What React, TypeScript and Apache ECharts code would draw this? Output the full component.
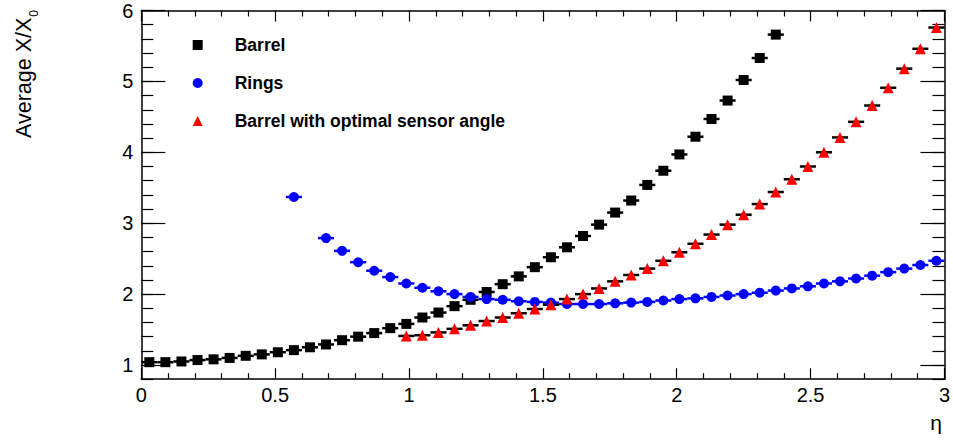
import React, { useEffect, useRef } from "react";
import * as echarts from "echarts";

// Bin centres in eta (bins of width 0.06 from 0 to 3)
const etaCenters = [
  0.03, 0.09, 0.15, 0.21, 0.27, 0.33, 0.39, 0.45, 0.51, 0.57,
  0.63, 0.69, 0.75, 0.81, 0.87, 0.93, 0.99, 1.05, 1.11, 1.17,
  1.23, 1.29, 1.35, 1.41, 1.47, 1.53, 1.59, 1.65, 1.71, 1.77,
  1.83, 1.89, 1.95, 2.01, 2.07, 2.13, 2.19, 2.25, 2.31, 2.37,
  2.43, 2.49, 2.55, 2.61, 2.67, 2.73, 2.79, 2.85, 2.91, 2.97,
];
const binHalfWidth = 0.03;

const barrel = [
  1.04, 1.04, 1.05, 1.07, 1.08, 1.1, 1.13, 1.15, 1.18, 1.21,
  1.25, 1.29, 1.35, 1.4, 1.45, 1.52, 1.58, 1.67, 1.74, 1.83,
  1.92, 2.03, 2.14, 2.25, 2.38, 2.52, 2.66, 2.82, 2.98, 3.15,
  3.32, 3.54, 3.74, 3.97, 4.22, 4.47, 4.73, 5.02, 5.33, 5.66,
  null, null, null, null, null, null, null, null, null, null,
];

const rings = [
  null, null, null, null, null, null, null, null, null, 3.37,
  null, 2.79, 2.61, 2.45, 2.33, 2.24, 2.15, 2.09, 2.04, 2.0,
  1.96, 1.93, 1.92, 1.9, 1.89, 1.88, 1.86, 1.86, 1.86, 1.87,
  1.88, 1.89, 1.91, 1.93, 1.94, 1.96, 1.98, 2.0, 2.02, 2.05,
  2.08, 2.11, 2.15, 2.18, 2.22, 2.26, 2.31, 2.36, 2.41, 2.47,
];

const optimal = [
  null, null, null, null, null, null, null, null, null, null,
  null, null, null, null, null, null, 1.41, 1.42, 1.46, 1.51,
  1.56, 1.62, 1.67, 1.73, 1.79, 1.85, 1.93, 2.0, 2.08, 2.18,
  2.27, 2.36, 2.47, 2.59, 2.71, 2.84, 2.98, 3.12, 3.27, 3.44,
  3.62, 3.8, 4.0, 4.21, 4.43, 4.66, 4.91, 5.18, 5.46, 5.76,
];

const seriesNames = ["Barrel", "Rings", "Barrel with optimal sensor angle"];
const yTickLabels = [1, 2, 3, 4, 5, 6];
const xTickLabels = [0, 0.5, 1, 1.5, 2, 2.5, 3];

const FONT = "'Liberation Sans', Arial, Helvetica, sans-serif";

function pairs(values: (number | null)[]) {
  const out: number[][] = [];
  values.forEach((v, i) => {
    if (v !== null && v !== undefined) out.push([etaCenters[i], v]);
  });
  return out;
}

function errorBars(name: string, data: number[][], color: string) {
  return {
    type: "custom",
    name,
    xAxisIndex: 0,
    yAxisIndex: 0,
    z: 2,
    silent: true,
    data,
    renderItem: (_params: any, api: any) => {
      const x = api.value(0);
      const y = api.value(1);
      const p1 = api.coord([x - binHalfWidth, y]);
      const p2 = api.coord([x + binHalfWidth, y]);
      return {
        type: "line",
        shape: { x1: p1[0], y1: p1[1], x2: p2[0], y2: p2[1] },
        style: { stroke: color, lineWidth: 2.5 },
      };
    },
  };
}

export default function App() {
  const ref = useRef<HTMLDivElement>(null);

  useEffect(() => {
    if (!ref.current) return;
    const chart = echarts.init(ref.current, undefined, { renderer: "svg" });

    const barrelData = pairs(barrel);
    const ringsData = pairs(rings);
    const optimalData = pairs(optimal);

    const axisLine = { show: true, lineStyle: { color: "#000", width: 1.5 } };
    const gridRect = { left: 141.3, right: 2.6, top: 10.5, bottom: 62.8 };

    const minorY = (position: "left" | "right") => ({
      type: "value",
      position,
      min: 0.8,
      max: 6,
      interval: 0.2,
      axisLine,
      axisTick: { show: true, inside: true, length: 12, lineStyle: { color: "#000", width: 1.2 } },
      axisLabel: { show: false },
      splitLine: { show: false },
    });

    const majorY = (position: "left" | "right", showLabels: boolean) => ({
      type: "value",
      position,
      min: 0.8,
      max: 6,
      axisLine: { show: false },
      axisTick: {
        show: true,
        inside: true,
        length: 24,
        customValues: yTickLabels,
        lineStyle: { color: "#000", width: 1.2 },
      },
      axisLabel: {
        show: showLabels,
        customValues: yTickLabels,
        fontFamily: FONT,
        fontSize: 20,
        color: "#000",
        margin: 8,
      },
      splitLine: { show: false },
    });

    const xCommon = {
      type: "value",
      min: 0,
      max: 3,
      interval: 0.5,
      axisLine,
      axisTick: { show: true, inside: true, length: 11, lineStyle: { color: "#000", width: 1.2 } },
      minorTick: { show: true, splitNumber: 5, length: 6, lineStyle: { color: "#000", width: 1.2 } },
      splitLine: { show: false },
      minorSplitLine: { show: false },
    };

    chart.setOption({
      animation: false,
      backgroundColor: "#fff",
      grid: { ...gridRect, containLabel: false },
      legend: {
        data: seriesNames,
        orient: "vertical",
        left: 192.7,
        top: 35,
        padding: 0,
        itemWidth: 10,
        itemHeight: 10,
        itemGap: 18,
        selectedMode: false,
        textStyle: {
          fontFamily: FONT,
          fontWeight: "bold",
          fontSize: 17.5,
          color: "#000",
          lineHeight: 20,
          padding: [0, 0, 0, 27],
        },
      },
      xAxis: [
        {
          ...xCommon,
          position: "bottom",
          axisLabel: {
            show: true,
            fontFamily: FONT,
            fontSize: 20,
            color: "#000",
            margin: 6,
            formatter: (v: number) => {
              const found = xTickLabels.find((t) => Math.abs(t - v) < 1e-6);
              return found === undefined ? "" : String(found);
            },
          },
          name: "η",
          nameLocation: "end",
          nameGap: -2.5,
          nameTextStyle: {
            fontFamily: FONT,
            fontSize: 21,
            color: "#000",
            align: "right",
            verticalAlign: "top",
            padding: [33, 0, 0, 0],
          },
        },
        {
          ...xCommon,
          position: "top",
          axisLabel: { show: false },
        },
      ],
      yAxis: [minorY("left"), majorY("left", true), minorY("right"), majorY("right", false)],
      graphic: [
        {
          type: "text",
          x: 24,
          y: 10,
          rotation: Math.PI / 2,
          style: {
            text: "Average X/X{sub|0}",
            fontFamily: FONT,
            fontSize: 21.5,
            fill: "#000",
            align: "right",
            verticalAlign: "middle",
            lineHeight: 32,
            rich: {
              sub: {
                fontFamily: FONT,
                fontSize: 12,
                lineHeight: 12,
                verticalAlign: "bottom",
                fill: "#000",
                padding: [0, 0, 0, 1],
              },
            },
          },
        },
      ],
      series: [
        errorBars("Barrel error", barrelData, "#000"),
        {
          type: "scatter",
          name: seriesNames[0],
          xAxisIndex: 0,
          yAxisIndex: 0,
          symbol: "rect",
          symbolSize: 10,
          itemStyle: { color: "#000", opacity: 1 },
          z: 3,
          data: barrelData,
        },
        errorBars("Rings error", ringsData, "#0000ff"),
        {
          type: "scatter",
          name: seriesNames[1],
          xAxisIndex: 0,
          yAxisIndex: 0,
          symbol: "circle",
          symbolSize: 10,
          itemStyle: { color: "#0000ff", opacity: 1 },
          z: 3,
          data: ringsData,
        },
        errorBars("Optimal error", optimalData, "#000"),
        {
          type: "scatter",
          name: seriesNames[2],
          xAxisIndex: 0,
          yAxisIndex: 0,
          symbol: "triangle",
          symbolSize: 11,
          itemStyle: { color: "#ff0000", opacity: 1 },
          z: 3,
          data: optimalData,
        },
      ],
    });

    return () => chart.dispose();
  }, []);

  return (
    <div
      ref={ref}
      style={{ position: "fixed", left: 0, top: 0, width: 953, height: 442, background: "#fff" }}
    />
  );
}
